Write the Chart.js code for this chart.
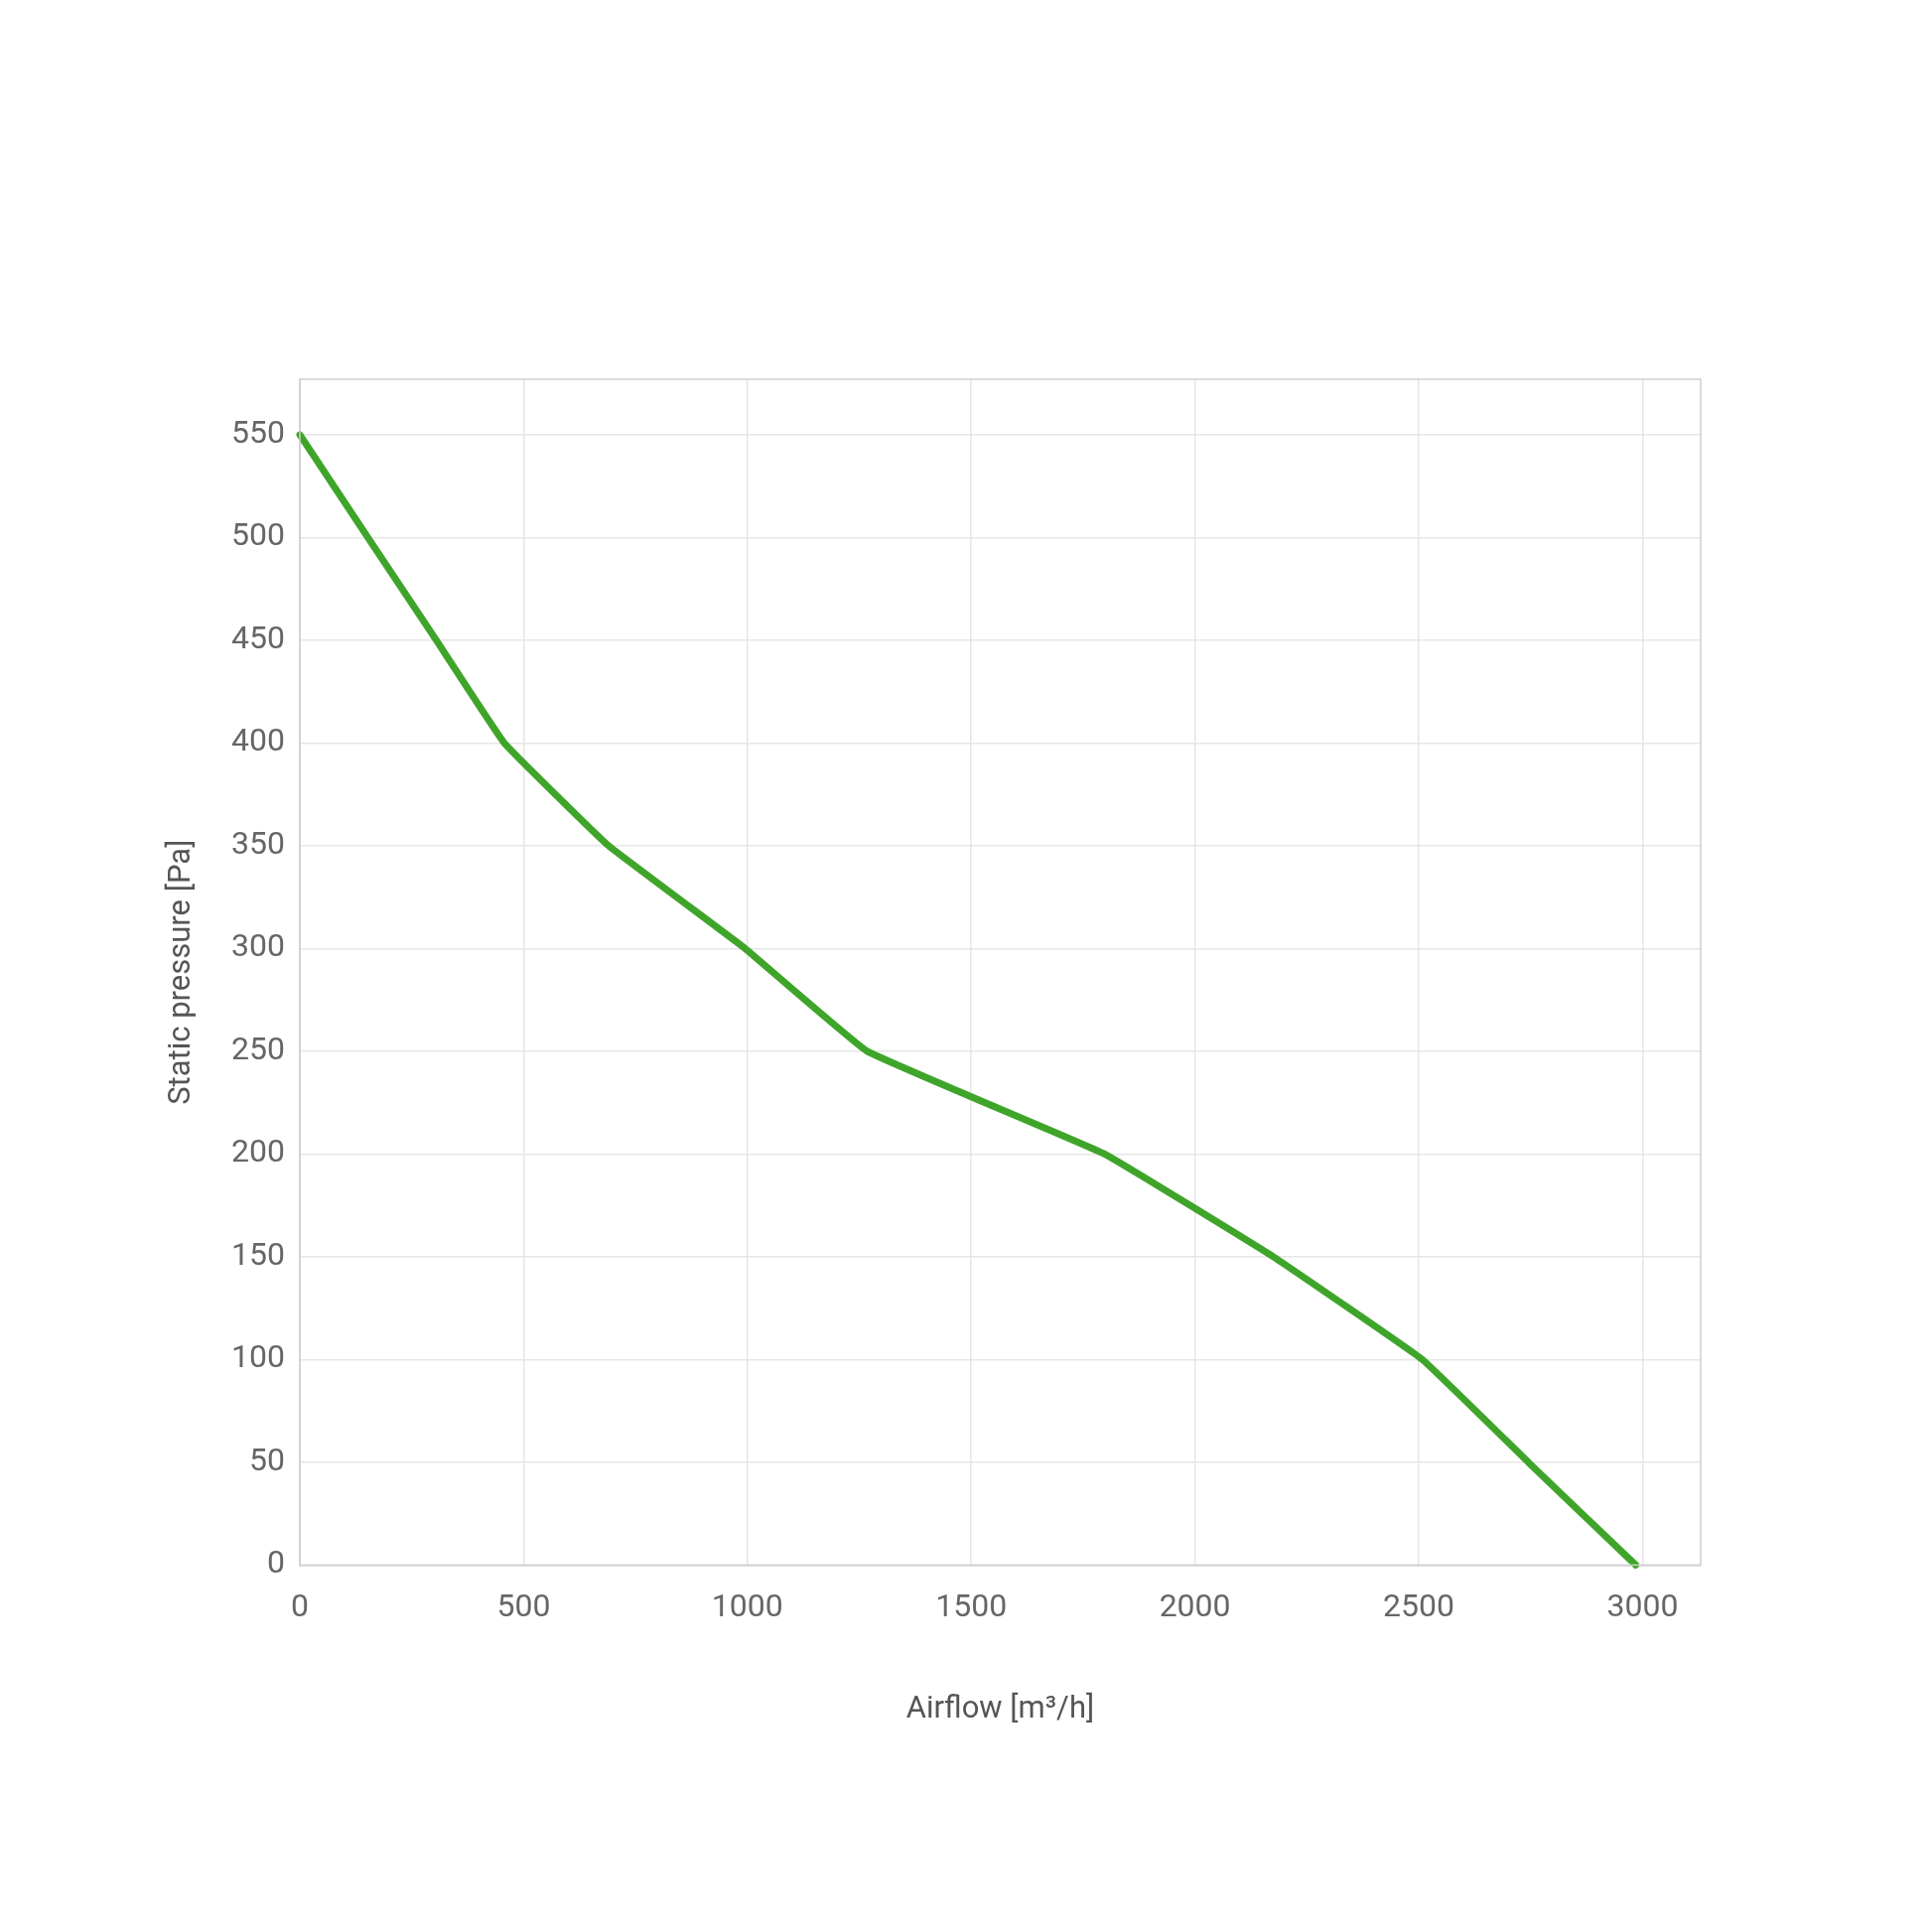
<!DOCTYPE html>
<html>
<head>
<meta charset="utf-8">
<script src="https://cdn.jsdelivr.net/npm/chart.js@4/dist/chart.umd.min.js"></script>
<style>
  html, body { margin: 0; padding: 0; background: #fff; }
  #wrap { width: 1946px; height: 1946px; }
</style>
</head>
<body>
<div id="wrap"><canvas id="fanChart"></canvas></div>
<script>
// fan curve
const airflow = [0, 152, 305, 457, 690, 995, 1268, 1798, 2175, 2508, 2745, 2985];
const pressure = [550, 500, 450, 400, 350, 300, 250, 200, 150, 100, 50, 0];

const xTicks = [0, 500, 1000, 1500, 2000, 2500, 3000];
const yTicks = [0, 50, 100, 150, 200, 250, 300, 350, 400, 450, 500, 550];

const xTitle = 'Airflow [m³/h]';
const yTitle = 'Static pressure [Pa]';

const points = airflow.map((x, i) => ({ x: x, y: pressure[i] }));

// grey frame round the plot area (top and right sides too)
const frame = {
    id: 'frame',
    afterDraw(chart) {
        const a = chart.chartArea;
        const ctx = chart.ctx;
        ctx.save();
        ctx.strokeStyle = '#cfcfcf';
        ctx.lineWidth = 1.5;
        ctx.strokeRect(a.left, a.top, a.right - a.left, a.bottom - a.top);
        ctx.restore();
    }
};

Chart.defaults.font.family = 'Roboto';
Chart.defaults.color = '#666';

new Chart(document.getElementById('fanChart'), {
    type: 'line',
    data: {
        datasets: [{
            label: 'Static pressure',
            data: points,
            borderColor: '#3fa52a',
            backgroundColor: '#3fa52a',
            borderWidth: 7,
            borderCapStyle: 'round',
            borderJoinStyle: 'round',
            tension: 0.08,
            pointRadius: 0,
            clip: false
        }]
    },
    options: {
        responsive: true,
        maintainAspectRatio: false,
        animation: false,
        layout: {
            padding: { left: 161, right: 233, top: 382, bottom: 205 }
        },
        plugins: {
            legend: { display: false },
            tooltip: { enabled: false }
        },
        scales: {
            x: {
                type: 'linear',
                min: 0,
                max: 3130,
                grid: { color: '#e6e6e6', lineWidth: 1.5, drawTicks: false },
                border: { color: '#d8d8d8', width: 1.5 },
                afterBuildTicks(scale) {
                    scale.ticks = xTicks.map(v => ({ value: v }));
                },
                ticks: {
                    autoSkip: false,
                    maxRotation: 0,
                    padding: 24,
                    font: { size: 32 },
                    color: '#666',
                    callback: v => String(v)
                },
                title: {
                    display: true,
                    text: xTitle,
                    color: '#555',
                    font: { size: 31 },
                    padding: { top: 41, bottom: 0 }
                }
            },
            y: {
                min: 0,
                max: 577,
                grid: { color: '#e6e6e6', lineWidth: 1.5, drawTicks: false },
                border: { color: '#d8d8d8', width: 1.5 },
                afterBuildTicks(scale) {
                    scale.ticks = yTicks.map(v => ({ value: v }));
                },
                ticks: {
                    autoSkip: false,
                    padding: 15,
                    font: { size: 32 },
                    color: '#666',
                    callback: v => String(v)
                },
                title: {
                    display: true,
                    text: yTitle,
                    color: '#555',
                    font: { size: 31 },
                    padding: { top: 4, bottom: 4 }
                },
                afterFit(scale) {
                    scale.width = 141;
                }
            }
        }
    },
    plugins: [frame]
});
</script>
</body>
</html>
